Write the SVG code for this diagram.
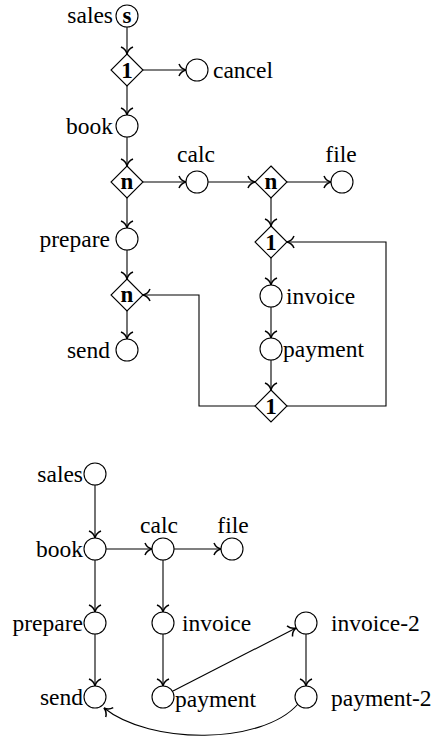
<svg xmlns="http://www.w3.org/2000/svg" width="435" height="743" viewBox="0 0 435 743" font-family="'Liberation Serif', 'Times New Roman', serif">
<defs>
<marker id="arr" markerUnits="userSpaceOnUse" markerWidth="16" markerHeight="16" viewBox="-8 -8 16 16" refX="0" refY="0" orient="auto" overflow="visible">
<path d="M-7,-6 C-5.5,-2.5 -2.5,-0.6 0,0 C-2.5,0.6 -5.5,2.5 -7,6" fill="none" stroke="#000" stroke-width="1.5"/>
</marker>
</defs>
<style>
.n{fill:#fff;stroke:#000;stroke-width:1.1}
.t{font-family:'Liberation Serif','Times New Roman',serif;font-size:23.5px;fill:#000}
.b{font-family:'Liberation Serif','Times New Roman',serif;font-size:23px;font-weight:bold;fill:#000;text-anchor:middle}
.e{fill:none;stroke:#000;stroke-width:1.1;marker-end:url(#arr)}
</style>
<rect width="435" height="743" fill="#fff"/>
<g id="connectors">
<line class="e" x1="127" y1="27" x2="127" y2="54"/>
<line class="e" x1="143" y1="70" x2="186" y2="70"/>
<line class="e" x1="127" y1="86" x2="127" y2="115"/>
<line class="e" x1="127" y1="137" x2="127" y2="166"/>
<line class="e" x1="143" y1="182" x2="186" y2="182"/>
<line class="e" x1="208" y1="182" x2="255" y2="182"/>
<line class="e" x1="287" y1="182" x2="331" y2="182"/>
<line class="e" x1="127" y1="198" x2="127" y2="228"/>
<line class="e" x1="271" y1="198" x2="271" y2="226"/>
<line class="e" x1="127" y1="250" x2="127" y2="279"/>
<line class="e" x1="127" y1="311" x2="127" y2="339"/>
<line class="e" x1="271" y1="258" x2="271" y2="285"/>
<line class="e" x1="271" y1="307" x2="271" y2="338"/>
<line class="e" x1="271" y1="360" x2="271" y2="390"/>
<path class="e" d="M287,406 H386 V242 H287"/>
<path class="e" d="M255,406 H199 V295 H143"/>
<line class="e" x1="95" y1="485" x2="95" y2="538"/>
<line class="e" x1="106" y1="549" x2="152" y2="549"/>
<line class="e" x1="174" y1="549" x2="221" y2="549"/>
<line class="e" x1="95" y1="560" x2="95" y2="612"/>
<line class="e" x1="95" y1="634" x2="95" y2="686"/>
<line class="e" x1="163" y1="560" x2="163" y2="612"/>
<line class="e" x1="163" y1="634" x2="163" y2="686"/>
<line class="e" x1="173" y1="691" x2="296" y2="628"/>
<line class="e" x1="306" y1="634" x2="306" y2="686"/>
<path class="e" d="M298,704 C262,745 150,745 104,708"/>
</g>
<g id="t-sales"><circle class="n" cx="127" cy="16" r="11"/><text class="b" x="127" y="23">s</text><text class="t" x="113" y="23" text-anchor="end">sales</text></g>
<g id="t-x1"><polygon class="n" points="127,54 143,70 127,86 111,70"/><text class="b" x="127" y="78">1</text></g>
<g id="t-cancel"><circle class="n" cx="197" cy="70" r="11"/><text class="t" x="213" y="78">cancel</text></g>
<g id="t-book"><circle class="n" cx="127" cy="126" r="11"/><text class="t" x="113" y="134" text-anchor="end">book</text></g>
<g id="t-xn1"><polygon class="n" points="127,166 143,182 127,198 111,182"/><text class="b" x="127" y="189">n</text></g>
<g id="t-calc"><circle class="n" cx="197" cy="182" r="11"/><text class="t" x="196" y="162" text-anchor="middle">calc</text></g>
<g id="t-xn2"><polygon class="n" points="271,166 287,182 271,198 255,182"/><text class="b" x="271" y="189">n</text></g>
<g id="t-file"><circle class="n" cx="342" cy="182" r="11"/><text class="t" x="341" y="162" text-anchor="middle">file</text></g>
<g id="t-prepare"><circle class="n" cx="127" cy="239" r="11"/><text class="t" x="110" y="247" text-anchor="end">prepare</text></g>
<g id="t-x2"><polygon class="n" points="271,226 287,242 271,258 255,242"/><text class="b" x="271" y="250">1</text></g>
<g id="t-xn3"><polygon class="n" points="127,279 143,295 127,311 111,295"/><text class="b" x="127" y="302">n</text></g>
<g id="t-invoice"><circle class="n" cx="271" cy="296" r="11"/><text class="t" x="286" y="304">invoice</text></g>
<g id="t-send"><circle class="n" cx="127" cy="350" r="11"/><text class="t" x="110" y="358" text-anchor="end">send</text></g>
<g id="t-payment"><circle class="n" cx="271" cy="349" r="11"/><text class="t" x="283" y="357">payment</text></g>
<g id="t-x3"><polygon class="n" points="271,390 287,406 271,422 255,406"/><text class="b" x="271" y="414">1</text></g>
<g id="b-sales"><circle class="n" cx="95" cy="474" r="11"/><text class="t" x="83" y="482" text-anchor="end">sales</text></g>
<g id="b-book"><circle class="n" cx="95" cy="549" r="11"/><text class="t" x="83" y="557" text-anchor="end">book</text></g>
<g id="b-calc"><circle class="n" cx="163" cy="549" r="11"/><text class="t" x="159" y="533" text-anchor="middle">calc</text></g>
<g id="b-file"><circle class="n" cx="232" cy="549" r="11"/><text class="t" x="233" y="533" text-anchor="middle">file</text></g>
<g id="b-prepare"><circle class="n" cx="95" cy="623" r="11"/><text class="t" x="83" y="631" text-anchor="end">prepare</text></g>
<g id="b-invoice"><circle class="n" cx="163" cy="623" r="11"/><text class="t" x="182" y="631">invoice</text></g>
<g id="b-invoice2"><circle class="n" cx="306" cy="623" r="11"/><text class="t" x="331" y="631">invoice-2</text></g>
<g id="b-send"><circle class="n" cx="95" cy="697" r="11"/><text class="t" x="83" y="705" text-anchor="end">send</text></g>
<g id="b-payment"><circle class="n" cx="163" cy="697" r="11"/><text class="t" x="175" y="707">payment</text></g>
<g id="b-payment2"><circle class="n" cx="306" cy="697" r="11"/><text class="t" x="331" y="706">payment-2</text></g>
</svg>
